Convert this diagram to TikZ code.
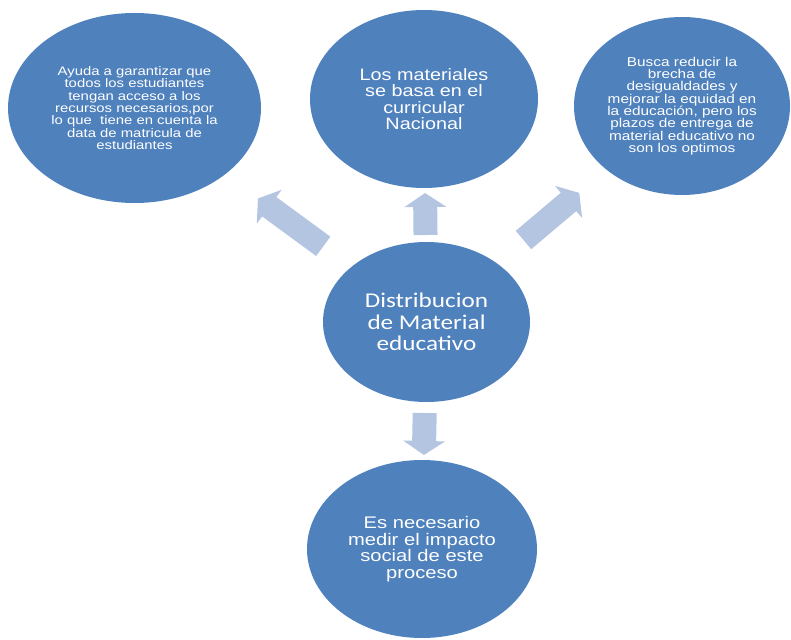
\documentclass[tikz,border=0pt]{standalone}
\usepackage{fontspec}
\usetikzlibrary{shapes.geometric,calc}
\newfontfamily\arialw[FakeStretch=1.2]{Liberation Sans}
\newfontfamily\calibw[FakeStretch=1.2]{Carlito}
\definecolor{bolablue}{HTML}{4F81BD}
\definecolor{flechablue}{HTML}{B4C5E1}
\tikzset{bola/.style={ellipse,fill=bolablue,text=white,inner sep=0pt,align=center}}
% block arrow from tail #1 to tip #2
\newcommand{\flecha}[2]{%
\coordinate (#1h) at ($(#2)!14pt!(#1)$);
\fill[flechablue]($(#1)!12pt!90:(#2)$)--($(#1h)!12pt!90:(#2)$)--($(#1h)!21pt!90:(#2)$)--(#2)
 --($(#1h)!21pt!-90:(#2)$)--($(#1h)!12pt!-90:(#2)$)--($(#1)!12pt!-90:(#2)$)--cycle;}

\begin{document}
\begin{tikzpicture}[x=1pt,y=-1pt]
\useasboundingbox (0,0) rectangle (791,639);
\node[bola,minimum width=253pt,minimum height=190pt,font=\arialw\fontsize{12.4}{12.4}\selectfont](izq)at(134.5,108)
 {Ayuda a garantizar que\\todos los estudiantes\\tengan acceso a los\\recursos necesarios,por\\lo que~ tiene en cuenta la\\data de matricula de\\estudiantes};
\node[bola,minimum width=228pt,minimum height=178pt,font=\arialw\fontsize{16.5}{16.5}\selectfont](arriba)at(424,99)
 {Los materiales\\se basa en el\\curricular\\Nacional};
\node[bola,minimum width=216pt,minimum height=178pt,font=\arialw\fontsize{12.8}{12.3}\selectfont](der)at(682,106)
 {Busca reducir la\\brecha de\\desigualdades y\\mejorar la equidad en\\la educación, pero los\\plazos de entrega de\\material educativo no\\son los optimos};
\node[bola,minimum width=207pt,minimum height=160pt,font=\calibw\fontsize{21}{21.7}\selectfont](hub)at(426.5,322)
 {Distribucion\\de Material\\educativo};
\node[bola,minimum width=230pt,minimum height=178pt,font=\arialw\fontsize{16.8}{16.7}\selectfont](abajo)at(422,549)
 {Es necesario\\medir el impacto\\social de este\\proceso};
% arrows
\coordinate(a1)at($(hub)!128pt!(izq)$);\coordinate(b1)at($(hub)!209pt!(izq)$);
\coordinate(a2)at($(hub)!87pt!(arriba)$);\coordinate(b2)at($(hub)!129pt!(arriba)$);
\coordinate(a3)at($(hub)!127pt!(der)$);\coordinate(b3)at($(hub)!200pt!(der)$);
\coordinate(a4)at($(hub)!91pt!(abajo)$);\coordinate(b4)at($(hub)!133pt!(abajo)$);
\flecha{a1}{b1}
\flecha{a2}{b2}
\flecha{a3}{b3}
\flecha{a4}{b4}
\end{tikzpicture}
\end{document}
